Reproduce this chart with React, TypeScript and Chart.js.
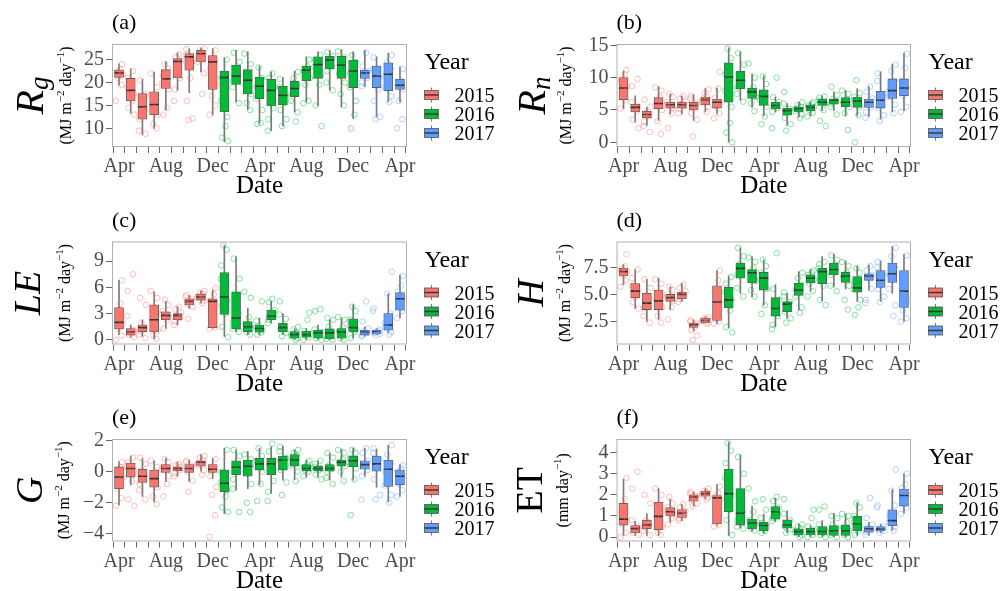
import React, { useEffect, useRef } from 'react';
import { Chart, registerables } from 'chart.js';
Chart.register(...registerables);

const SERIF = "'Liberation Serif', 'DejaVu Serif', serif";

// ---------- categories ----------
const MONTHS = [
  '2015-04', '2015-05', '2015-06', '2015-07', '2015-08', '2015-09', '2015-10', '2015-11', '2015-12',
  '2016-01', '2016-02', '2016-03', '2016-04', '2016-05', '2016-06', '2016-07', '2016-08', '2016-09',
  '2016-10', '2016-11', '2016-12', '2017-01', '2017-02', '2017-03', '2017-04',
];
const MONTH_ABBR = ['Jan', 'Feb', 'Mar', 'Apr', 'May', 'Jun', 'Jul', 'Aug', 'Sep', 'Oct', 'Nov', 'Dec'];
const LABELED_MONTHS = ['Apr', 'Aug', 'Dec'];
const YEARS = ['2015', '2016', '2017'];
const YEAR_COLORS = ['#F8766D', '#00BA38', '#619CFF'];
const YEAR_RGB = ['248,118,109', '0,186,56', '97,156,255'];

// ---------- box stats: [lower whisker, q1, median, q3, upper whisker] ----------
const RG_BOX = [
  [19.4, 21.1, 22.1, 22.7, 24.1], [13.3, 16.0, 18.3, 20.9, 23.0], [8.6, 12.0, 14.7, 17.6, 20.7],
  [10.0, 13.0, 15.2, 18.0, 22.3], [14.0, 18.7, 20.8, 22.8, 24.5], [18.3, 21.0, 24.6, 25.2, 26.4],
  [17.8, 22.7, 25.6, 26.3, 27.4], [22.3, 24.5, 26.3, 27.0, 27.5], [12.9, 18.5, 24.5, 25.9, 27.4],
  [7.1, 13.6, 21.1, 22.5, 25.4], [15.8, 19.6, 21.4, 23.8, 27.0], [14.1, 17.5, 20.5, 22.8, 26.7],
  [11.1, 16.5, 19.2, 21.2, 23.6], [9.5, 14.9, 18.3, 20.7, 22.3], [10.5, 15.1, 17.2, 19.2, 21.1],
  [13.6, 16.9, 18.7, 20.3, 22.5], [15.8, 20.4, 22.7, 23.6, 25.6], [14.9, 20.9, 23.9, 25.6, 26.7],
  [18.3, 23.0, 24.9, 25.7, 27.0], [14.7, 20.9, 23.8, 25.7, 27.2], [12.2, 18.9, 22.5, 24.9, 26.7],
  [19.1, 20.9, 22.1, 22.7, 27.0], [12.5, 18.9, 21.4, 23.6, 25.6], [15.8, 18.2, 21.8, 24.3, 26.4],
  [15.8, 18.5, 19.4, 20.7, 23.4],
];
const RN_BOX = [
  [5.2, 6.6, 8.4, 10.0, 11.0], [3.1, 4.7, 5.4, 5.9, 7.2], [2.6, 3.8, 4.3, 4.8, 5.4],
  [3.4, 5.2, 6.0, 6.9, 8.6], [4.4, 5.3, 5.8, 6.2, 7.5], [4.4, 5.3, 5.8, 6.2, 7.2],
  [3.4, 5.0, 5.7, 6.2, 7.4], [4.7, 5.8, 6.6, 7.0, 8.3], [4.4, 5.3, 6.2, 6.7, 8.4],
  [0.0, 6.2, 10.1, 12.3, 14.6], [6.5, 8.3, 9.6, 11.0, 14.0], [5.4, 6.8, 7.8, 8.4, 10.6],
  [4.1, 5.7, 7.1, 8.1, 10.3], [4.7, 5.2, 5.7, 6.2, 7.0], [2.6, 4.2, 4.9, 5.3, 6.0],
  [3.9, 4.7, 5.2, 5.5, 6.2], [4.1, 4.9, 5.4, 5.8, 6.2], [4.9, 5.7, 6.2, 6.7, 7.2],
  [4.9, 5.9, 6.5, 6.7, 7.8], [4.1, 5.5, 6.2, 6.9, 8.0], [4.1, 5.4, 6.4, 7.0, 8.3],
  [4.0, 5.4, 6.2, 6.7, 8.6], [3.6, 5.3, 6.5, 7.9, 10.9], [4.7, 6.8, 8.0, 9.8, 12.1],
  [4.9, 7.2, 8.4, 9.8, 13.8],
];
const LE_BOX = [
  [0.6, 1.25, 2.0, 3.7, 6.8], [0.3, 0.55, 0.9, 1.3, 1.7], [0.4, 0.95, 1.4, 1.7, 2.3],
  [0.1, 0.9, 2.3, 4.0, 5.5], [1.3, 2.3, 2.8, 3.2, 4.4], [1.7, 2.3, 2.8, 3.0, 3.8],
  [3.6, 4.0, 4.4, 4.7, 5.1], [4.2, 4.55, 4.9, 5.2, 5.6], [1.3, 1.4, 4.4, 4.7, 5.7],
  [0.4, 2.9, 4.9, 7.7, 10.8], [0.9, 1.25, 2.5, 5.5, 9.5], [0.6, 0.95, 1.5, 2.1, 3.6],
  [0.6, 0.9, 1.3, 1.7, 2.5], [1.9, 2.3, 2.7, 3.4, 4.4], [0.6, 0.95, 1.4, 1.9, 3.0],
  [0.0, 0.2, 0.6, 0.95, 1.3], [0.0, 0.3, 0.6, 1.0, 1.3], [0.0, 0.2, 0.8, 1.1, 1.7],
  [0.0, 0.1, 0.8, 1.25, 2.3], [0.0, 0.2, 0.9, 1.3, 2.5], [0.2, 0.9, 1.4, 2.4, 4.0],
  [0.4, 0.55, 0.9, 1.1, 1.5], [0.6, 0.65, 0.95, 1.1, 1.3], [0.8, 1.1, 1.7, 3.0, 5.3],
  [2.5, 3.4, 4.7, 5.4, 7.4],
];
const H_BOX = [
  [5.9, 6.7, 7.1, 7.4, 7.75], [3.7, 4.7, 5.3, 6.0, 7.3], [2.5, 3.6, 4.2, 5.1, 6.4],
  [2.7, 3.6, 4.4, 5.4, 6.5], [3.6, 4.35, 4.7, 5.0, 5.7], [4.35, 4.6, 5.0, 5.2, 6.0],
  [1.6, 1.95, 2.2, 2.35, 2.65], [2.35, 2.4, 2.6, 2.8, 2.95], [2.3, 2.6, 4.3, 5.8, 7.2],
  [1.9, 3.75, 4.5, 5.65, 6.7], [5.1, 6.5, 7.4, 7.9, 9.3], [4.8, 6.05, 7.0, 7.3, 8.5],
  [4.0, 5.4, 6.5, 7.05, 8.2], [2.0, 3.0, 3.7, 4.7, 5.9], [2.8, 3.4, 4.1, 4.35, 5.1],
  [3.6, 4.9, 5.4, 6.05, 7.1], [5.3, 6.05, 6.5, 6.8, 7.3], [4.4, 6.0, 7.1, 7.4, 8.5],
  [5.7, 6.8, 7.3, 7.9, 8.7], [5.5, 6.1, 6.7, 7.05, 8.1], [4.35, 5.2, 5.6, 6.65, 7.6],
  [5.4, 6.3, 6.7, 6.9, 7.7], [4.35, 5.65, 6.3, 7.2, 8.1], [5.1, 6.1, 6.9, 7.9, 9.4],
  [2.5, 3.8, 5.3, 7.2, 8.7],
];
const G_BOX = [
  [-2.15, -1.1, -0.35, 0.3, 0.65], [-0.85, -0.35, 0.2, 0.55, 1.0], [-1.6, -0.7, -0.3, 0.15, 0.85],
  [-1.95, -1.0, -0.45, 0.1, 0.7], [-0.65, -0.05, 0.2, 0.45, 0.85], [-0.3, 0.05, 0.2, 0.3, 0.6],
  [-0.65, -0.05, 0.2, 0.45, 0.75], [0.0, 0.35, 0.6, 0.7, 1.1], [-0.45, -0.05, 0.15, 0.45, 0.85],
  [-2.7, -1.3, -0.75, 0.1, 1.5], [-1.2, -0.2, 0.3, 0.7, 1.4], [-1.1, -0.3, 0.35, 0.75, 1.3],
  [-0.85, 0.1, 0.5, 0.85, 1.5], [-1.4, -0.2, 0.5, 0.85, 1.6], [-0.55, 0.1, 0.75, 1.0, 1.65],
  [-0.5, 0.35, 0.75, 1.1, 1.4], [-0.35, 0.05, 0.2, 0.45, 0.75], [-0.35, 0.05, 0.2, 0.35, 0.7],
  [-0.55, 0.0, 0.2, 0.45, 1.2], [-0.35, 0.35, 0.6, 0.75, 1.45], [-0.55, 0.3, 0.7, 1.0, 1.5],
  [-0.3, 0.15, 0.45, 0.7, 1.5], [-1.0, 0.0, 0.5, 1.0, 1.45], [-1.95, -0.95, 0.15, 0.75, 1.7],
  [-1.6, -0.85, -0.3, 0.1, 0.45],
];
const ET_BOX = [
  [0.08, 0.57, 0.85, 1.6, 2.75], [0.08, 0.2, 0.4, 0.55, 0.75], [0.08, 0.4, 0.57, 0.8, 1.1],
  [0.08, 0.35, 0.98, 1.65, 2.3], [0.7, 1.0, 1.2, 1.4, 1.8], [0.78, 0.93, 1.13, 1.3, 1.55],
  [1.47, 1.7, 1.9, 2.0, 2.15], [1.8, 1.94, 2.06, 2.17, 2.3], [0.55, 0.62, 1.86, 1.97, 2.5],
  [0.08, 1.2, 2.06, 3.22, 4.5], [0.42, 0.57, 1.13, 2.3, 3.9], [0.3, 0.4, 0.67, 0.85, 1.47],
  [0.2, 0.3, 0.55, 0.7, 1.1], [0.73, 0.85, 1.2, 1.45, 1.85], [0.2, 0.42, 0.57, 0.82, 1.24],
  [0.0, 0.1, 0.26, 0.39, 0.62], [0.0, 0.1, 0.26, 0.42, 0.55], [0.0, 0.1, 0.26, 0.5, 0.78],
  [0.0, 0.08, 0.3, 0.55, 1.13], [0.0, 0.08, 0.3, 0.57, 1.1], [0.08, 0.3, 0.62, 1.0, 1.63],
  [0.08, 0.23, 0.39, 0.5, 0.7], [0.2, 0.3, 0.39, 0.5, 0.62], [0.31, 0.54, 0.78, 1.29, 2.25],
  [1.13, 1.47, 1.97, 2.28, 3.0],
];

// ---------- daily observations (sampled) per month ----------
const RG_PTS = [
  [16, 19.5, 21, 21.8, 22.3, 23, 24], [13, 14.5, 16, 17.5, 19, 21, 22.5], [8.8, 9.5, 12, 14, 15.5, 17.5, 20.5],
  [10, 11, 13, 15, 16.5, 19, 22], [13, 14.5, 18.5, 20, 21.5, 23, 24], [16, 18.5, 21, 23.5, 24.8, 25.5, 26.2],
  [11.8, 12.2, 16, 21, 24.5, 26, 27.3], [17.5, 22, 24.5, 25.5, 26.3, 27, 27.4], [13, 15, 17, 19.5, 23, 25.5, 27],
  [7.2, 8, 10.5, 12.5, 16, 21, 25], [15.5, 19, 20.5, 21.5, 22.5, 24.5, 26.5], [14, 15.5, 17.5, 19.5, 21.5, 24, 26.3],
  [11, 11.2, 14, 16.5, 19, 21, 23.3], [9.5, 12, 14.5, 17, 19, 21, 22], [10.5, 12, 14, 15.5, 17, 19, 20.8],
  [11.5, 13.5, 16, 17.5, 19.5, 21, 22.3], [15.5, 16, 19.5, 21, 22.5, 23.5, 25], [10.5, 15, 19.5, 21.5, 23.5, 25, 26],
  [18.3, 20, 22.5, 23.5, 24.8, 25.8, 26.6], [15, 17.5, 20, 22, 23.5, 25.5, 26.8], [10, 13, 16, 19, 22, 24.5, 26],
  [19.2, 20, 21, 21.8, 22.5, 23.5, 26.5], [12, 12.5, 16, 18.5, 21, 23, 25.5], [15.8, 17, 19, 21.5, 23, 24.5, 26],
  [10, 12, 16, 18.5, 19.5, 20.5, 23],
];
const RN_PTS = [
  [5.2, 6.5, 7.5, 8.5, 9.5, 10.5, 11.2], [2.2, 3.5, 4.8, 5.5, 6.2, 8.7, 9.8], [1.6, 2.5, 3.2, 4.0, 4.6, 5.5, 6.6],
  [1.3, 3.3, 5, 6, 7, 8, 8.5], [2.2, 4.5, 5.3, 5.8, 6.2, 7, 7.5], [4.5, 5.2, 5.6, 5.9, 6.3, 6.7, 7.2],
  [0.9, 3.5, 4.5, 5.5, 6, 6.8, 7.2], [4.7, 5.5, 6.2, 6.6, 7, 7.6, 8.2], [3.7, 4.5, 5.5, 6.2, 6.8, 8.3, 10.9],
  [0, 1.5, 3, 5.5, 8, 10.5, 13, 14.5], [6.3, 7.5, 8.5, 9.5, 10.5, 12, 13.8], [4.8, 6, 7, 7.8, 8.5, 10, 12.2],
  [2.8, 4, 5.5, 6.5, 7.5, 9, 10.2], [2.2, 4.7, 5.3, 5.7, 6.2, 7, 10], [1.8, 2.8, 3.8, 4.7, 5.2, 6, 7.8],
  [3.8, 4.3, 4.8, 5.2, 5.5, 5.8, 6.2], [4, 4.6, 5, 5.4, 5.7, 6, 6.2], [2.5, 3.3, 5, 6, 6.5, 6.9, 7.1],
  [4.3, 5.5, 6, 6.4, 6.7, 7.3, 8.6], [1.9, 4.5, 5.5, 6.2, 6.7, 7.5, 8], [0, 4.2, 5.5, 6.4, 7, 7.6, 9.6],
  [3.8, 4.7, 5.4, 6.2, 6.8, 7.8, 8.6], [3.3, 4.2, 5.3, 6.5, 7.5, 9.5, 10.7], [4.5, 5.8, 7, 8, 9.5, 11, 12],
  [4.7, 5.5, 7.2, 8.4, 9.5, 11.5, 13.7],
];
const LE_PTS = [
  [0, 0.5, 1.3, 2, 3, 4.2, 6.8], [0.3, 0.6, 0.8, 1.1, 2.7, 5.6, 7.5], [0.2, 0.6, 1, 1.4, 1.9, 4, 4.8],
  [0.1, 0.5, 1, 2.3, 3.5, 4.8, 5.6], [1.3, 2.2, 2.6, 2.9, 3.3, 4, 4.6], [1.7, 2.1, 2.5, 2.8, 3.1, 3.5, 3.8],
  [2.4, 3.8, 4.1, 4.4, 4.7, 4.9, 5.1], [4.2, 4.5, 4.8, 5, 5.2, 5.4, 5.6], [1.3, 1.4, 2.5, 3.9, 4.5, 5.2, 5.9],
  [0.3, 1.5, 3, 4.5, 7, 8.5, 10.3, 10.8], [0.9, 1.3, 2, 3, 5, 7, 9.3], [0.6, 0.9, 1.3, 1.8, 2.6, 4.8, 5.5],
  [0.6, 0.8, 1.1, 1.5, 2.2, 4.4], [1.9, 2.3, 2.6, 2.9, 3.4, 4.3, 4.7], [0.4, 0.8, 1.2, 1.6, 2.4, 2.9, 4.4],
  [0, 0.2, 0.4, 0.6, 0.8, 1.2, 1.5], [0, 0.3, 0.5, 0.7, 1, 2.3, 3.1], [0, 0.2, 0.5, 0.9, 1.2, 3.3, 3.5],
  [0, 0.1, 0.5, 0.9, 1.5, 2.3, 2.5], [0, 0.2, 0.6, 1, 1.5, 2.3, 2.6], [0.2, 0.9, 1.2, 1.6, 2.3, 3.3, 3.8],
  [0.4, 0.55, 0.8, 1, 1.3, 2.1, 4.4], [0.5, 0.7, 0.8, 1, 1.2, 3.3, 3.6], [0.6, 0.9, 1.4, 2, 3, 5.3, 7.8],
  [2.5, 3.3, 4.2, 4.8, 5.5, 6.2, 7.3],
];
const H_PTS = [
  [5.7, 6.3, 6.8, 7.1, 7.3, 7.6, 8.7], [3.7, 4.3, 4.8, 5.3, 5.8, 6.5, 7.3], [2.4, 3, 3.7, 4.2, 4.8, 5.6, 6.4],
  [2.4, 3, 3.8, 4.5, 5.2, 6, 6.4], [2.7, 3.8, 4.4, 4.7, 5, 5.4, 5.7], [4.3, 4.6, 4.9, 5.1, 5.3, 5.6, 5.9],
  [0.8, 1.2, 1.7, 2, 2.3, 2.5, 2.6], [2.3, 2.4, 2.5, 2.6, 2.7, 2.8, 2.9], [2.3, 2.5, 3, 4.3, 5.3, 6.3, 7.2],
  [1.5, 2, 3.5, 4.5, 5.2, 6, 6.6], [4.8, 5.6, 6.8, 7.4, 7.8, 8.5, 9.3], [4.8, 5.4, 6.2, 7, 7.4, 8, 8.4],
  [3.2, 4, 5.5, 6.4, 7, 7.6, 8.2], [1.8, 2.2, 3, 3.6, 4.5, 5.5, 8.8], [2.4, 2.8, 3.4, 4, 4.3, 4.8, 5.2],
  [3.3, 3.8, 4.8, 5.4, 5.9, 6.5, 7], [4.8, 5.3, 6, 6.4, 6.8, 7, 7.2], [4, 4.5, 5.8, 7, 7.4, 7.8, 8],
  [5.3, 5.8, 6.8, 7.2, 7.6, 8.2, 8.6], [3.6, 4.5, 5.8, 6.6, 7, 7.6, 8], [3.1, 3.8, 4.5, 5.5, 6.2, 7, 7.4],
  [4.2, 4.5, 5.5, 6.5, 6.8, 7.2, 7.6], [4.3, 4.8, 5.5, 6.2, 6.8, 7.5, 8], [3, 4, 5.5, 6.8, 7.5, 8.5, 9.3],
  [2.5, 2.8, 3.5, 4.5, 5.5, 7, 8.6],
];
const G_PTS = [
  [-2.2, -1.7, -1.1, -0.4, 0, 0.3, 0.6], [-2.2, -1.8, -0.6, 0, 0.3, 0.6, 0.9], [-1.8, -1.2, -0.8, -0.3, 0.1, 0.5, 0.9],
  [-2.1, -1.6, -1, -0.5, -0.1, 0.3, 0.7], [-1.6, -0.8, -0.3, 0.1, 0.3, 0.6, 0.8], [-0.3, -0.1, 0.1, 0.2, 0.3, 0.4, 0.5],
  [-1.3, -0.6, 0, 0.2, 0.4, 0.6, 0.7], [-0.2, 0.1, 0.4, 0.55, 0.7, 0.9, 1], [-4.2, -2.8, -1.5, -1, -0.3, 0.3, 0.8],
  [-2.6, -2.3, -1.6, -1.2, -0.7, 0, 1.4], [-2.6, -1.1, -0.5, 0.2, 0.5, 1, 1.4], [-2.6, -2, -0.8, 0, 0.4, 0.8, 1.1],
  [-1.9, -0.8, 0, 0.4, 0.7, 1, 1.5], [-1.9, -1.3, -0.6, 0.3, 0.7, 1.3, 1.8], [-1.5, -0.7, 0.1, 0.6, 0.9, 1.3, 1.6],
  [-0.6, 0, 0.4, 0.7, 1, 1.2, 1.4], [-0.3, 0, 0.1, 0.2, 0.3, 0.5, 0.7], [-0.5, -0.2, 0.1, 0.2, 0.3, 0.5, 0.7],
  [-0.8, -0.4, 0, 0.2, 0.4, 0.9, 1.2], [-0.6, 0, 0.35, 0.6, 0.8, 1.2, 1.4], [-2.8, -0.5, 0.2, 0.6, 0.9, 1.2, 1.4],
  [-1.8, -0.3, 0.1, 0.4, 0.7, 1.2, 1.5], [-1.8, -1.5, -0.5, 0.3, 0.8, 1.2, 1.5], [-2, -1.5, -0.9, 0, 0.5, 1.1, 1.7],
  [-1.6, -1.2, -0.8, -0.3, 0, 0.2, 0.4],
];
const ET_PTS = [
  [0, 0.2, 0.6, 0.8, 1.2, 1.8, 2.8], [0.1, 0.2, 0.35, 0.5, 0.8, 2.3, 3.1], [0.1, 0.3, 0.45, 0.6, 0.8, 1.6, 2],
  [0.1, 0.2, 0.5, 1, 1.5, 2, 2.3], [0.6, 0.9, 1.1, 1.2, 1.4, 1.6, 1.9], [0.8, 0.9, 1, 1.1, 1.25, 1.4, 1.55],
  [1.47, 1.6, 1.75, 1.85, 1.95, 2.05, 2.15], [1.8, 1.9, 2, 2.05, 2.1, 2.2, 2.3], [0.5, 0.6, 1, 1.8, 1.9, 2.1, 2.4],
  [0.1, 0.8, 1.3, 2, 2.8, 3.5, 4.1, 4.45], [0.4, 0.5, 0.8, 1.2, 2, 3, 3.8], [0.3, 0.4, 0.6, 0.8, 1.2, 1.7, 2.3],
  [0.2, 0.3, 0.5, 0.65, 0.9, 1.3, 1.8], [0.75, 0.9, 1.1, 1.2, 1.4, 1.7, 1.9], [0.2, 0.4, 0.5, 0.6, 0.8, 1.1, 1.8],
  [0, 0.1, 0.2, 0.3, 0.4, 0.5, 0.6], [0, 0.1, 0.25, 0.35, 0.5, 0.9, 1.3], [0, 0.1, 0.2, 0.35, 0.6, 1.3, 1.45],
  [0, 0.1, 0.25, 0.4, 0.6, 0.9, 1], [0, 0.1, 0.3, 0.45, 0.7, 1, 1.1], [0.1, 0.3, 0.5, 0.7, 1, 1.4, 1.6],
  [0.1, 0.25, 0.35, 0.45, 0.6, 0.9, 1.85], [0.2, 0.3, 0.35, 0.4, 0.5, 1.4, 1.5], [0.3, 0.5, 0.7, 1, 1.5, 2.2, 3.2],
  [1.1, 1.4, 1.7, 2, 2.3, 2.5, 3],
];

// ---------- y tick values / labels ----------
const RG_TICKS = [10, 15, 20, 25];
const RG_TICK_LABELS = ['10', '15', '20', '25'];
const RN_TICKS = [0, 5, 10, 15];
const RN_TICK_LABELS = ['0', '5', '10', '15'];
const LE_TICKS = [0, 3, 6, 9];
const LE_TICK_LABELS = ['0', '3', '6', '9'];
const H_TICKS = [2.5, 5, 7.5];
const H_TICK_LABELS = ['2.5', '5.0', '7.5'];
const G_TICKS = [-4, -2, 0, 2];
const G_TICK_LABELS = ['\u22124', '\u22122', '0', '2'];
const ET_TICKS = [0, 1, 2, 3, 4];
const ET_TICK_LABELS = ['0', '1', '2', '3', '4'];

const UNIT_ENERGY = [
  { t: '(MJ m', s: 16 }, { t: '\u22122', s: 11, dy: -7 }, { t: ' day', s: 16 }, { t: '\u22121', s: 11, dy: -7 }, { t: ')', s: 16 },
];
const UNIT_ET = [{ t: '(mm day', s: 16 }, { t: '\u22121', s: 11, dy: -7 }, { t: ')', s: 16 }];

// ---------- layout / style of panels ----------
const JITTER = [-0.26, 0.2, -0.08, 0.3, -0.2, 0.1, 0.25, -0.3];
const LEFT_COL = { L: 112, R: 407 };
const RIGHT_COL = { L: 616.5, R: 911 };
const ROWS = [{ T: 44, B: 147 }, { T: 241.5, B: 344.5 }, { T: 439, B: 541.5 }];

const PANELS = [
  { tag: '(a)', col: LEFT_COL, row: ROWS[0], box: RG_BOX, pts: RG_PTS, ticks: RG_TICKS, tickLabels: RG_TICK_LABELS, yMin: 5.95, yMax: 28.4,
    sym: [{ t: 'R', s: 40, i: true }, { t: 'g', s: 27, i: true, dy: 5 }], symX: 43, unit: UNIT_ENERGY, unitX: 71 },
  { tag: '(b)', col: RIGHT_COL, row: ROWS[0], box: RN_BOX, pts: RN_PTS, ticks: RN_TICKS, tickLabels: RN_TICK_LABELS, yMin: -0.72, yMax: 15.2,
    sym: [{ t: 'R', s: 40, i: true }, { t: 'n', s: 27, i: true, dy: 5 }], symX: 545, unit: UNIT_ENERGY, unitX: 571 },
  { tag: '(c)', col: LEFT_COL, row: ROWS[1], box: LE_BOX, pts: LE_PTS, ticks: LE_TICKS, tickLabels: LE_TICK_LABELS, yMin: -0.53, yMax: 11.25,
    sym: [{ t: 'LE', s: 38, i: true }], symX: 40, unit: UNIT_ENERGY, unitX: 70 },
  { tag: '(d)', col: RIGHT_COL, row: ROWS[1], box: H_BOX, pts: H_PTS, ticks: H_TICKS, tickLabels: H_TICK_LABELS, yMin: 0.38, yMax: 9.88,
    sym: [{ t: 'H', s: 38, i: true }], symX: 543, unit: UNIT_ENERGY, unitX: 570 },
  { tag: '(e)', col: LEFT_COL, row: ROWS[2], box: G_BOX, pts: G_PTS, ticks: G_TICKS, tickLabels: G_TICK_LABELS, yMin: -4.5, yMax: 2.1,
    sym: [{ t: 'G', s: 38, i: true }], symX: 42, unit: UNIT_ENERGY, unitX: 69 },
  { tag: '(f)', col: RIGHT_COL, row: ROWS[2], box: ET_BOX, pts: ET_PTS, ticks: ET_TICKS, tickLabels: ET_TICK_LABELS, yMin: -0.21, yMax: 4.65,
    sym: [{ t: 'ET', s: 38, i: false }], symX: 542, unit: UNIT_ET, unitX: 568 },
];

const W = 1005;
const H = 591;
const Y_AXIS_W = 40;
const X_AXIS_H = 30;

function yearIndex(i: number) {
  return YEARS.indexOf(MONTHS[i].slice(0, 4));
}

function drawRotated(ctx: CanvasRenderingContext2D, bx: number, cy: number, parts: any[]) {
  ctx.save();
  ctx.translate(bx, cy);
  ctx.rotate(-Math.PI / 2);
  ctx.textAlign = 'left';
  ctx.textBaseline = 'alphabetic';
  ctx.fillStyle = '#000';
  const fontOf = (p: any) => `${p.i ? 'italic ' : ''}${p.s}px ${SERIF}`;
  let total = 0;
  for (const p of parts) {
    ctx.font = fontOf(p);
    total += ctx.measureText(p.t).width;
  }
  let x = -total / 2;
  for (const p of parts) {
    ctx.font = fontOf(p);
    ctx.fillText(p.t, x, p.dy || 0);
    x += ctx.measureText(p.t).width;
  }
  ctx.restore();
}

function buildConfig(panel: any): any {
  const datasets: any[] = [];
  // whiskers
  datasets.push({
    type: 'bar',
    data: panel.box.map((b: number[], i: number) => ({ x: i, y: [b[0], b[4]] })),
    backgroundColor: '#7a7a7a',
    borderWidth: 0,
    barThickness: 1,
    grouped: false,
    order: 4,
  });
  // boxes per year
  YEARS.forEach((yr, k) => {
    datasets.push({
      type: 'bar',
      label: yr,
      data: panel.box
        .map((b: number[], i: number) => ({ x: i, y: [b[1], b[3]] }))
        .filter((_: any, i: number) => yearIndex(i) === k),
      backgroundColor: YEAR_COLORS[k],
      borderColor: '#555555',
      borderWidth: 0.8,
      borderSkipped: false,
      barThickness: 9,
      grouped: false,
      order: 3,
    });
  });
  // medians
  datasets.push({
    type: 'scatter',
    data: panel.box.map((b: number[], i: number) => ({ x: i, y: b[2] })),
    pointStyle: 'line',
    radius: 4.5,
    borderColor: '#333333',
    borderWidth: 1.6,
    order: 2,
  });
  // jittered observations
  YEARS.forEach((yr, k) => {
    const pts: any[] = [];
    panel.pts.forEach((vals: number[], i: number) => {
      if (yearIndex(i) !== k) return;
      vals.forEach((v, j) => pts.push({ x: i + JITTER[(j + i * 3) % JITTER.length], y: v }));
    });
    datasets.push({
      type: 'scatter',
      data: pts,
      pointStyle: 'circle',
      radius: 2.8,
      borderWidth: 0.9,
      borderColor: `rgba(${YEAR_RGB[k]},0.5)`,
      backgroundColor: 'rgba(0,0,0,0)',
      order: 1,
    });
  });

  const { L, R } = panel.col;
  const { T, B } = panel.row;

  const decor = {
    id: 'decor',
    afterDraw(chart: any) {
      const ctx: CanvasRenderingContext2D = chart.ctx;
      const a = chart.chartArea;
      ctx.save();
      ctx.strokeStyle = '#b0b0b0';
      ctx.lineWidth = 1;
      ctx.strokeRect(a.left + 0.5, a.top + 0.5, a.right - a.left - 1, a.bottom - a.top - 1);
      ctx.fillStyle = '#000';
      ctx.textBaseline = 'alphabetic';
      ctx.textAlign = 'left';
      ctx.font = `22px ${SERIF}`;
      ctx.fillText(panel.tag, a.left, a.top - 15);
      ctx.textAlign = 'center';
      ctx.font = `25px ${SERIF}`;
      ctx.fillText('Date', (a.left + a.right) / 2, a.bottom + 46);
      const cy = (a.top + a.bottom) / 2;
      drawRotated(ctx, panel.symX, cy, panel.sym);
      drawRotated(ctx, panel.unitX, cy, panel.unit);
      // legend
      const lx = a.right + 17.5;
      ctx.textAlign = 'left';
      ctx.fillStyle = '#000';
      ctx.font = `24px ${SERIF}`;
      ctx.fillText('Year', lx, a.top + 25);
      YEARS.forEach((yr, k) => {
        const yc = a.top + 51 + k * 19;
        ctx.strokeStyle = '#777';
        ctx.lineWidth = 1;
        ctx.beginPath();
        ctx.moveTo(lx + 7, yc - 7.5);
        ctx.lineTo(lx + 7, yc - 4.5);
        ctx.moveTo(lx + 7, yc + 4.5);
        ctx.lineTo(lx + 7, yc + 7.5);
        ctx.stroke();
        ctx.fillStyle = YEAR_COLORS[k];
        ctx.fillRect(lx, yc - 4.5, 14, 9);
        ctx.strokeStyle = '#555';
        ctx.lineWidth = 0.8;
        ctx.strokeRect(lx, yc - 4.5, 14, 9);
        ctx.strokeStyle = '#333';
        ctx.lineWidth = 1.4;
        ctx.beginPath();
        ctx.moveTo(lx, yc);
        ctx.lineTo(lx + 14, yc);
        ctx.stroke();
        ctx.fillStyle = '#000';
        ctx.font = `20px ${SERIF}`;
        ctx.fillText(yr, lx + 30, yc + 7);
      });
      ctx.restore();
    },
  };

  return {
    type: 'bar',
    data: { datasets },
    options: {
      animation: false,
      responsive: false,
      maintainAspectRatio: false,
      events: [],
      layout: { padding: { left: L - Y_AXIS_W, top: T, right: W - R, bottom: H - B - X_AXIS_H } },
      plugins: { legend: { display: false }, tooltip: { enabled: false } },
      scales: {
        x: {
          type: 'linear',
          min: -0.6,
          max: 24.6,
          offset: false,
          afterBuildTicks: (s: any) => {
            s.ticks = MONTHS.map((_, i) => ({ value: i }));
          },
          afterFit: (s: any) => {
            s.height = X_AXIS_H;
          },
          grid: { drawOnChartArea: false, drawTicks: true, tickLength: 6, color: '#666' },
          border: { display: false },
          ticks: {
            autoSkip: false,
            maxRotation: 0,
            padding: 2,
            color: '#4d4d4d',
            font: { family: SERIF, size: 20 },
            callback: (_v: any, i: number) => {
              const m = MONTH_ABBR[parseInt(MONTHS[i].slice(5), 10) - 1];
              return LABELED_MONTHS.includes(m) ? m : '';
            },
          },
        },
        y: {
          type: 'linear',
          min: panel.yMin,
          max: panel.yMax,
          afterBuildTicks: (s: any) => {
            s.ticks = panel.ticks.map((v: number) => ({ value: v }));
          },
          afterFit: (s: any) => {
            s.width = Y_AXIS_W;
          },
          grid: { drawOnChartArea: false, drawTicks: true, tickLength: 6, color: '#666' },
          border: { display: false },
          ticks: {
            autoSkip: false,
            padding: 2,
            color: '#4d4d4d',
            font: { family: SERIF, size: 20 },
            callback: (_v: any, i: number) => panel.tickLabels[i],
          },
        },
      },
    },
    plugins: [decor],
  };
}

function Panel({ panel }: { panel: any }) {
  const ref = useRef<HTMLCanvasElement | null>(null);
  useEffect(() => {
    if (!ref.current) return;
    const chart = new Chart(ref.current, buildConfig(panel));
    return () => chart.destroy();
  }, [panel]);
  return (
    <canvas
      ref={ref}
      width={W}
      height={H}
      style={{ position: 'absolute', left: 0, top: 0, width: W, height: H }}
    />
  );
}

export default function App() {
  return (
    <div style={{ position: 'absolute', left: 0, top: 0, width: W, height: H, background: '#fff' }}>
      {PANELS.map((p) => (
        <Panel key={p.tag} panel={p} />
      ))}
    </div>
  );
}
